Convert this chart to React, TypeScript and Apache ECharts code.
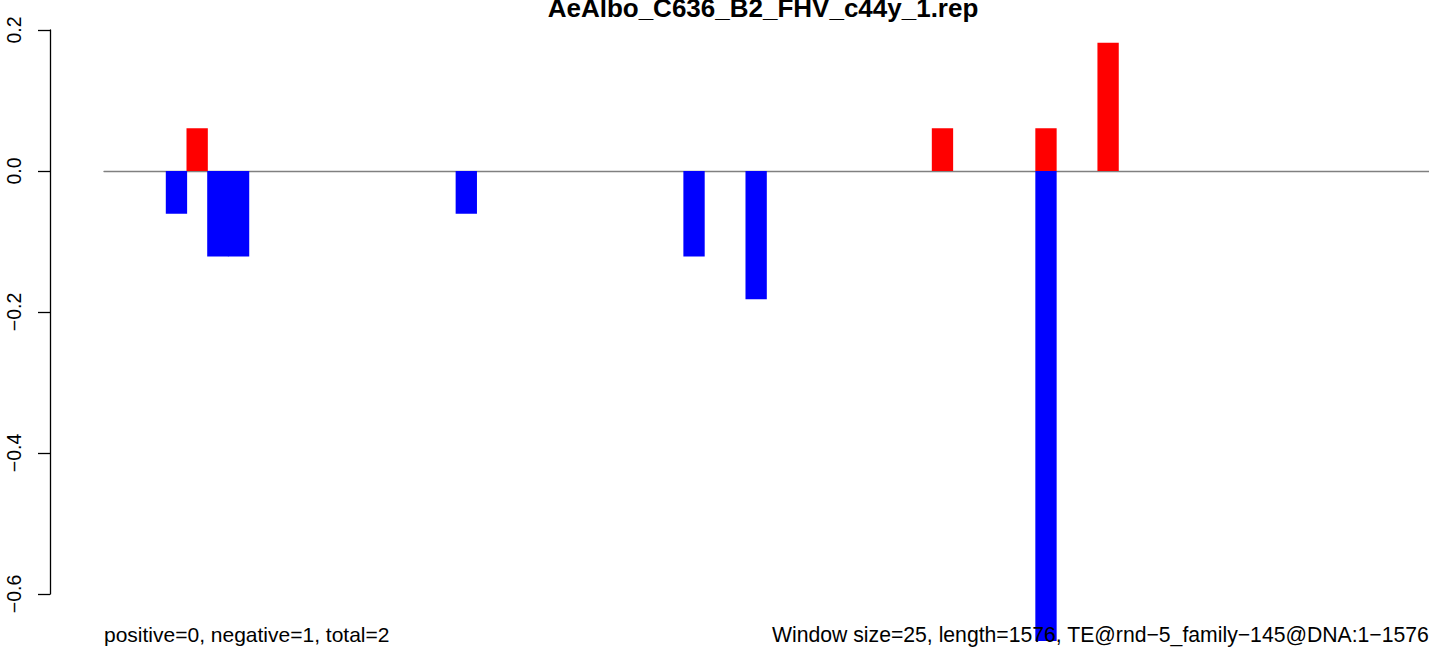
import React, { useEffect, useRef } from "react";
import * as echarts from "echarts";

const TITLE = "AeAlbo_C636_B2_FHV_c44y_1.rep";
const LEFT_NOTE = "positive=0, negative=1, total=2";
const RIGHT_NOTE = "Window size=25, length=1576, TE@rnd\u22125_family\u2212145@DNA:1\u22121576";

const BIN_COUNT = 64;
const positiveBins = [4, 40, 45, 48];
const positiveValues = [0.0606, 0.0606, 0.0606, 0.1818];
const negativeBins = [3, 5, 6, 17, 28, 31, 45];
const negativeValues = [-0.0606, -0.1212, -0.1212, -0.0606, -0.1212, -0.1818, -0.6667];
const yTicks = [-0.6, -0.4, -0.2, 0.0, 0.2];

function fill(bins: number[], vals: number[]) {
  const arr: (number | null)[] = new Array(BIN_COUNT).fill(null);
  bins.forEach((b, i) => (arr[b] = vals[i]));
  return arr;
}

export default function App() {
  const ref = useRef<HTMLDivElement>(null);
  useEffect(() => {
    if (!ref.current) return;
    const chart = echarts.init(ref.current, undefined, { renderer: "svg" });
    const cats = Array.from({ length: BIN_COUNT }, (_, i) => String(i + 1));
    const font = "'Liberation Sans', Arial, Helvetica, sans-serif";
    chart.setOption({
      animation: false,
      backgroundColor: "#ffffff",
      grid: { left: 104, right: 0, top: 30, bottom: 53, containLabel: false },
      xAxis: {
        type: "category",
        data: cats,
        axisLine: { show: true, onZero: true, lineStyle: { color: "#808080", width: 1.3 } },
        axisTick: { show: false },
        axisLabel: { show: false },
        splitLine: { show: false },
      },
      yAxis: {
        type: "value",
        min: yTicks[0],
        max: yTicks[yTicks.length - 1],
        interval: 0.2,
        offset: 54,
        axisLine: { show: true, lineStyle: { color: "#000", width: 1.3 } },
        axisTick: { show: true, length: 12, lineStyle: { color: "#000", width: 1.3 } },
        splitLine: { show: false },
        axisLabel: {
          rotate: 90,
          margin: 26,
          fontSize: 19.5,
          fontFamily: font,
          color: "#000",
          formatter: (v: number) => v.toFixed(1).replace("-", "\u2212"),
        },
      },
      series: [
        {
          name: "positive",
          type: "bar",
          data: fill(positiveBins, positiveValues),
          itemStyle: { color: "#ff0000" },
          barWidth: "103%",
          barGap: "-100%",
          clip: false,
          z: 2,
        },
        {
          name: "negative",
          type: "bar",
          data: fill(negativeBins, negativeValues),
          itemStyle: { color: "#0000ff" },
          barWidth: "103%",
          barGap: "-100%",
          clip: false,
          z: 2,
        },
      ],
      graphic: [
        {
          type: "text",
          x: 763,
          y: 8,
          z: 100,
          style: {
            text: TITLE,
            fontSize: 26,
            fontWeight: "bold",
            fontFamily: font,
            fill: "#000",
            align: "center",
            verticalAlign: "middle",
          },
        },
        {
          type: "text",
          x: 104,
          y: 634,
          z: 100,
          style: {
            text: LEFT_NOTE,
            fontSize: 21,
            fontFamily: font,
            fill: "#000",
            align: "left",
            verticalAlign: "middle",
          },
        },
        {
          type: "text",
          x: 772,
          y: 634,
          z: 100,
          style: {
            text: RIGHT_NOTE,
            fontSize: 21.2,
            fontFamily: font,
            fill: "#000",
            align: "left",
            verticalAlign: "middle",
          },
        },
      ],
    });
    return () => chart.dispose();
  }, []);
  return (
    <div
      ref={ref}
      style={{ position: "fixed", left: 0, top: 0, width: 1429, height: 647, background: "#fff" }}
    />
  );
}
